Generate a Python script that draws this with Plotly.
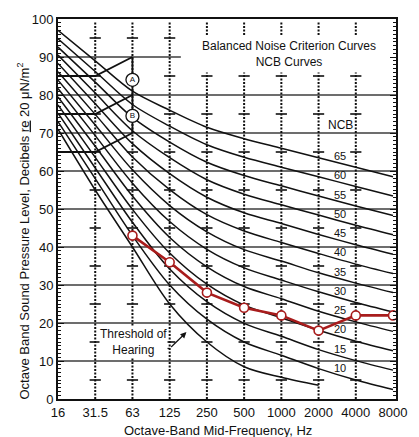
import plotly.graph_objects as go

# ---------------- data ----------------
freqs = ["16", "31.5", "63", "125", "250", "500", "1000", "2000", "4000", "8000"]
y_ticks = [0, 10, 20, 30, 40, 50, 60, 70, 80, 90, 100]

ncb_levels = [10, 15, 20, 25, 30, 35, 40, 45, 50, 55, 60, 65]
ncb_10 = [73.0, 58.0, 43.0, 30.0, 21.0, 15.0, 11.5, 8.0, 5.0, 2.5]
ncb_15 = [75.2, 60.8, 46.5, 34.2, 25.6, 19.9, 16.5, 13.0, 10.1, 7.6]
ncb_20 = [77.4, 63.6, 49.9, 38.4, 30.2, 24.7, 21.4, 18.1, 15.2, 12.7]
ncb_25 = [79.5, 66.5, 53.4, 42.5, 34.8, 29.6, 26.4, 23.1, 20.3, 17.8]
ncb_30 = [81.7, 69.3, 56.8, 46.7, 39.4, 34.5, 31.3, 28.2, 25.4, 22.9]
ncb_35 = [83.9, 72.1, 60.3, 50.9, 44.0, 39.3, 36.3, 33.2, 30.5, 28.0]
ncb_40 = [86.1, 74.9, 63.7, 55.1, 48.5, 44.2, 41.2, 38.3, 35.5, 33.0]
ncb_45 = [88.3, 77.7, 67.2, 59.3, 53.1, 49.0, 46.2, 43.3, 40.6, 38.1]
ncb_50 = [90.5, 80.5, 70.6, 63.5, 57.7, 53.9, 51.1, 48.4, 45.7, 43.2]
ncb_55 = [92.6, 83.4, 74.1, 67.6, 62.3, 58.8, 56.1, 53.4, 50.8, 48.3]
ncb_60 = [94.8, 86.2, 77.5, 71.8, 66.9, 63.6, 61.0, 58.5, 55.9, 53.4]
ncb_65 = [97.0, 89.0, 81.0, 76.0, 71.5, 68.5, 66.0, 63.5, 61.0, 58.5]
ncb_curves = [ncb_10, ncb_15, ncb_20, ncb_25, ncb_30, ncb_35,
              ncb_40, ncb_45, ncb_50, ncb_55, ncb_60, ncb_65]

threshold_freqs = ["16", "31.5", "63", "125", "250", "500", "1000", "2000"]
threshold_levels = [71.0, 55.0, 40.0, 25.0, 15.0, 8.5, 5.7, 3.6]

# rumble / vibration rating lines (regions A and B)
rating_freqs = ["16", "31.5", "63"]
rating_line_1 = [85, 85, 90]
rating_line_2 = [75, 75, 80]
rating_line_3 = [65, 65, 70]
rating_labels = ["A", "B"]
rating_label_levels = [84, 74.5]

measured_freqs = ["63", "125", "250", "500", "1000", "2000", "4000", "8000"]
measured_levels = [43, 36, 28, 24, 22, 18, 22, 22]

dotted_freqs = ["31.5", "63", "125", "250", "500", "1000", "2000", "4000"]
dash_levels = [5, 15, 25, 35, 45, 55, 65, 75, 85, 95]
grid_levels = [10, 20, 30, 40, 50, 60, 70, 80, 90]

# ---------------- styling ----------------
FONT = "Liberation Sans, Arial, Helvetica, sans-serif"
INK = "#111111"
RED = "#a81c1c"
X_MAX = 9.08
GRID90_END = 3.3
LABEL_X = 7.58

def xi(f):
    return freqs.index(f)

fig = go.Figure()

# horizontal grid lines
for lv in grid_levels:
    x1 = GRID90_END if lv == 90 else X_MAX
    fig.add_shape(type="line", xref="x", yref="y", x0=0, x1=x1, y0=lv, y1=lv,
                  line=dict(color="#3c3c3c", width=1.7), layer="below")

# dotted vertical lines
vx, vy = [], []
for f in dotted_freqs:
    vx += [xi(f), xi(f), None]
    vy += [0, 99.5, None]
fig.add_trace(go.Scatter(x=vx, y=vy, mode="lines",
                         line=dict(color=INK, width=2, dash="2px,1.5px"),
                         hoverinfo="skip", showlegend=False))

# short dashes on the dotted lines
dx, dy = [], []
for f in dotted_freqs:
    for lv in dash_levels:
        dx.append(xi(f))
        dy.append(lv)
fig.add_trace(go.Scatter(x=dx, y=dy, mode="markers",
                         marker=dict(symbol="line-ew", size=8,
                                     line=dict(color=INK, width=1.6)),
                         hoverinfo="skip", showlegend=False))

# NCB curves
xs = [xi(f) for f in freqs]
for lv, vals in zip(ncb_levels, ncb_curves):
    fig.add_trace(go.Scatter(x=xs, y=vals, mode="lines",
                             line=dict(color=INK, width=1.5, shape="spline", smoothing=0.9),
                             hoverinfo="skip", showlegend=False))

# threshold of hearing
fig.add_trace(go.Scatter(x=[xi(f) for f in threshold_freqs], y=threshold_levels,
                         mode="lines",
                         line=dict(color=INK, width=1.5, shape="spline", smoothing=0.9),
                         hoverinfo="skip", showlegend=False))

# rating lines A / B
rx = [xi(f) for f in rating_freqs]
for line_vals in (rating_line_1, rating_line_2, rating_line_3):
    fig.add_trace(go.Scatter(x=rx, y=line_vals, mode="lines",
                             line=dict(color=INK, width=1.8),
                             hoverinfo="skip", showlegend=False))
fig.add_trace(go.Scatter(x=[rx[-1], rx[-1]], y=[rating_line_3[-1], rating_line_1[-1]],
                         mode="lines", line=dict(color=INK, width=1.8),
                         hoverinfo="skip", showlegend=False))
fig.add_trace(go.Scatter(x=[rx[-1]] * len(rating_labels), y=rating_label_levels,
                         mode="markers+text", text=rating_labels,
                         textposition="middle center",
                         textfont=dict(family=FONT, size=8, color=INK),
                         marker=dict(symbol="circle", size=13, color="white",
                                     line=dict(color=INK, width=1.3)),
                         hoverinfo="skip", showlegend=False))

# measured spectrum
fig.add_trace(go.Scatter(x=[xi(f) for f in measured_freqs], y=measured_levels,
                         mode="lines+markers",
                         line=dict(color=RED, width=2.6),
                         marker=dict(symbol="circle", size=9, color="white",
                                     line=dict(color=RED, width=1.6)),
                         hoverinfo="skip", showlegend=False))

# threshold pointer: short horizontal stroke after "Hearing"
fig.add_trace(go.Scatter(x=[2.73, 3.0], y=[13.3, 13.3], mode="lines",
                         line=dict(color=INK, width=1.3),
                         hoverinfo="skip", showlegend=False))

annotations = []
# chart title box
annotations.append(dict(x=6.2, y=90.8, xref="x", yref="y",
                        text="Balanced Noise Criterion Curves<br>NCB Curves",
                        showarrow=False, bgcolor="white", width=190, height=34,
                        align="center", valign="middle",
                        font=dict(family=FONT, size=12, color=INK)))
# NCB header
annotations.append(dict(x=7.59, y=72.2, xref="x", yref="y", text="NCB",
                        showarrow=False, font=dict(family=FONT, size=12, color=INK)))
# curve labels
for lv, vals in zip(ncb_levels, ncb_curves):
    frac = LABEL_X - 7
    yv = vals[7] + frac * (vals[8] - vals[7])
    annotations.append(dict(x=LABEL_X, y=yv + 1.9, xref="x", yref="y", text=str(lv),
                            showarrow=False,
                            font=dict(family=FONT, size=11, color=INK)))
# threshold label and arrow
annotations.append(dict(x=2.02, y=15.1, xref="x", yref="y",
                        text="Threshold of<br>Hearing", showarrow=False,
                        bgcolor="white", borderpad=0, align="center",
                        font=dict(family=FONT, size=12, color=INK)))
annotations.append(dict(x=3.45, y=17.6, xref="x", yref="y",
                        ax=3.0, ay=13.3, axref="x", ayref="y", text="",
                        showarrow=True, arrowhead=2, arrowsize=1, arrowwidth=1.2,
                        arrowcolor=INK, standoff=0, startstandoff=0))
# axis titles
annotations.append(dict(x=-0.104, y=0.443, xref="paper", yref="paper",
                        text="Octave Band Sound Pressure Level, Decibels <u>re</u> 20 \u03bcN/m<sup>2</sup>",
                        textangle=-90, showarrow=False, xanchor="center", yanchor="middle",
                        font=dict(family=FONT, size=13, color=INK)))
annotations.append(dict(x=0.474, y=-0.083, xref="paper", yref="paper",
                        text="Octave-Band Mid-Frequency, Hz", showarrow=False,
                        xanchor="center", yanchor="middle",
                        font=dict(family=FONT, size=13, color=INK)))

fig.update_layout(
    width=419, height=437,
    margin=dict(l=58, r=13, t=15, b=38),
    paper_bgcolor="white", plot_bgcolor="white",
    showlegend=False,
    annotations=annotations,
    font=dict(family=FONT, size=13, color=INK),
)
fig.update_xaxes(range=[0, X_MAX], tickmode="array", tickvals=list(range(len(freqs))),
                 ticktext=freqs, showgrid=False, zeroline=False,
                 showline=True, linecolor=INK, linewidth=2, mirror=True, ticks="",
                 tickfont=dict(family=FONT, size=13, color=INK))
fig.update_yaxes(range=[0, 100], tickmode="array", tickvals=y_ticks,
                 showgrid=False, zeroline=False,
                 showline=True, linecolor=INK, linewidth=2, mirror="allticks",
                 ticks="inside", ticklen=6, tickwidth=1.2, tickcolor=INK,
                 minor=dict(dtick=1, ticks="inside", ticklen=3, tickwidth=1, tickcolor=INK),
                 tickfont=dict(family=FONT, size=13, color=INK))

fig.write_html("out.html")
